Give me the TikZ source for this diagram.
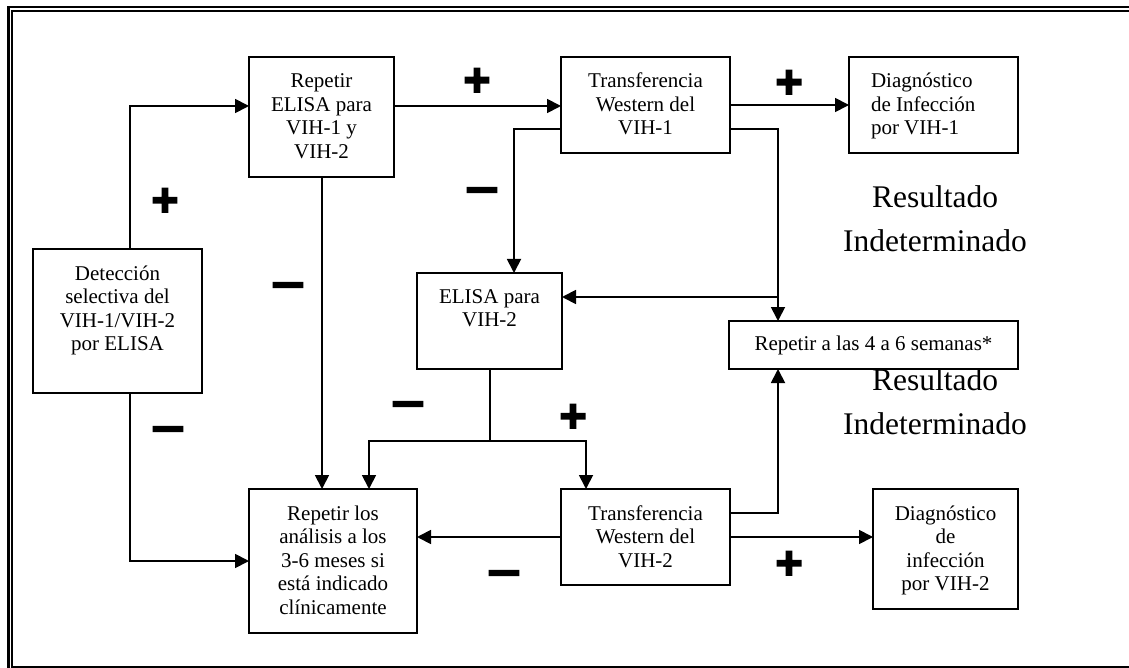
\documentclass[tikz,border=0pt]{standalone}
\usepackage{fontspec}
\setmainfont{Liberation Serif}
\newfontfamily\symfont{Liberation Sans}[FakeBold=4]
\usetikzlibrary{arrows.meta,calc}
\tikzset{
  box/.style={draw, line width=1.8pt, inner sep=0pt, outer sep=0pt, anchor=north west,
    font=\fontsize{21}{23.5}\selectfont},
  conn/.style={line width=1.8pt},
  arr/.style={conn, -{Triangle[length=14pt,width=14pt]}},
  sgn/.style={inner sep=0pt, font=\symfont\bfseries\fontsize{46}{46}\selectfont},
  mns/.style={sgn, xscale=1.25},
  res/.style={align=center, font=\fontsize{31.5}{44}\selectfont},
}
\newcommand\bxt[4]{\parbox[c][#2][t]{#1}{\centering\rule{0pt}{#3}#4}}
\newcommand\bxl[5]{\parbox[c][#2][t]{#1}{\raggedright\leftskip=#4\rule{0pt}{#3}#5}}
\begin{document}
\begin{tikzpicture}[x=1pt,y=-1pt]
\useasboundingbox (0,0) rectangle (1129,668);
\begin{scope}
  \clip (0,0) rectangle (1129,668);
  \draw[line width=2.5pt] (8.5,6.8) rectangle (1170,700);
  \draw[line width=1.8pt] (12,11.2) rectangle (1160,667);
\end{scope}
% boxes
\node[box] (det) at (33,249) {\bxt{169pt}{144pt}{31pt}{Detección\\selectiva del\\VIH-1/VIH-2\\por ELISA}};
\node[box] (rep1) at (249,57) {\bxt{145pt}{120pt}{31pt}{Repetir\\ELISA para\\VIH-1 y\\VIH-2}};
\node[box] (wb1) at (561,57) {\bxt{169pt}{96pt}{31pt}{Transferencia\\Western del\\VIH-1}};
\node[box] (diag1) at (849,57) {\bxl{169pt}{96pt}{31pt}{22pt}{Diagnóstico\\de Infección\\por VIH-1}};
\node[box] (elisa2) at (417,273) {\bxt{145pt}{96pt}{30pt}{ELISA para\\VIH-2}};
\node[box] (rep46) at (729,321) {\bxt{289pt}{48pt}{29pt}{Repetir a las 4 a 6 semanas*}};
\node[box] (rep36) at (249,489) {\bxt{168pt}{144pt}{31pt}{Repetir los\\análisis a los\\3-6 meses si\\está indicado\\clínicamente}};
\node[box] (wb2) at (561,489) {\bxt{169pt}{96pt}{31pt}{Transferencia\\Western del\\VIH-2}};
\node[box] (diag2) at (873,489) {\bxt{145pt}{120pt}{31pt}{Diagnóstico\\de\\infección\\por VIH-2}};
% connectors
\draw[arr] ([xshift=97pt]det.north west) |- ([yshift=-49pt]rep1.north west);
\draw[arr] ([xshift=97pt]det.south west) |- ([yshift=-72pt]rep36.north west);
\draw[arr] ([yshift=-49pt]rep1.north east) -- ([yshift=-49pt]wb1.north west);
\draw[arr] ([xshift=73pt]rep1.south west) -- ([xshift=73pt]rep1.south west |- rep36.north);
\draw[arr] (wb1.east) -- (diag1.west);
\draw[arr] ([yshift=-72pt]wb1.north west) -| ([xshift=97pt]elisa2.north west);
\draw[arr] ([yshift=-72pt]wb1.north east) -| ([xshift=49pt]rep46.north west);
\coordinate (j1) at (778,297);
\draw[arr] (j1) -- (elisa2.east |- j1);
\coordinate (j2) at (490,441);
\draw[conn] (j2 |- elisa2.south) -- (j2);
\draw[arr] (j2) -| ([xshift=120pt]rep36.north west);
\draw[arr] (j2) -| ([xshift=25pt]wb2.north west);
\draw[arr] (wb2.west) -- (wb2.west -| rep36.east);
\draw[arr] ([yshift=-24pt]wb2.north east) -| ([xshift=49pt]rep46.south west);
\draw[arr] (wb2.east) -- (wb2.east -| diag2.west);
% signs
\node[sgn] (p1) at (477,82) {+};
\node[sgn] (p2) at (789,84) {+};
\node[sgn] (p3) at (165,202) {+};
\node[sgn] (p4) at (573,418) {+};
\node[sgn] (p5) at (789,565) {+};
\node[mns] (m1) at (482,195) {–};
\node[mns] (m2) at (288,290) {–};
\node[mns] (m3) at (168,434) {–};
\node[mns] (m4) at (408,409) {–};
\node[mns] (m5) at (504,578) {–};
% result labels
\node[res] (r1) at (935,219) {Resultado\\Indeterminado};
\node[res] (r2) at (935,402) {Resultado\\Indeterminado};
\end{tikzpicture}
\end{document}
